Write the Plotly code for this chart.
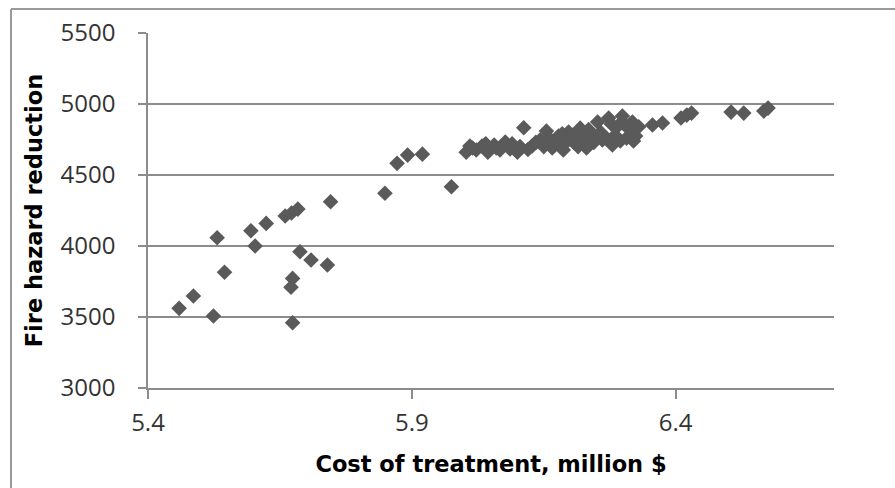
import plotly.graph_objects as go

cost = [5.459, 5.486, 5.524, 5.531, 5.545, 5.595, 5.603, 5.624, 5.660, 5.672,
        5.684, 5.688, 5.709, 5.740, 5.746, 5.674, 5.671, 5.674,
        5.849, 5.872, 5.892, 5.920, 5.975,
        6.003, 6.010, 6.022, 6.033, 6.044, 6.056, 6.067, 6.077, 6.086, 6.100,
        6.112, 6.128, 6.143, 6.155, 6.166, 6.178, 6.187, 6.197, 6.208, 6.219,
        6.231, 6.240, 6.252, 6.261, 6.273, 6.280, 6.290, 6.299, 6.307, 6.318,
        6.324, 6.356, 6.375, 6.410, 6.421, 6.430, 6.505, 6.529, 6.567, 6.575,
        6.015, 6.040, 6.060, 6.090, 6.105, 6.120, 6.135, 6.150, 6.160, 6.172,
        6.185, 6.195, 6.205, 6.215, 6.225, 6.235, 6.245, 6.258, 6.268, 6.278,
        6.285, 6.295, 6.300, 6.312, 6.320, 6.330]
reduction = [3561, 3648, 3507, 4058, 3815, 4107, 4000, 4159, 4211, 4232,
             4260, 3960, 3901, 3866, 4312, 3772, 3709, 3460,
             4371, 4582, 4640, 4647, 4417,
             4661, 4704, 4676, 4704, 4661, 4711, 4676, 4732, 4683, 4661,
             4833, 4704, 4746, 4809, 4690, 4774, 4676, 4802, 4725, 4830,
             4690, 4774, 4873, 4746, 4901, 4711, 4844, 4915, 4760, 4873,
             4774, 4852, 4866, 4901, 4922, 4936, 4943, 4936, 4950, 4971,
             4690, 4720, 4690, 4720, 4700, 4680, 4730, 4700, 4760, 4720,
             4790, 4740, 4780, 4700, 4760, 4820, 4730, 4800, 4760, 4860,
             4780, 4740, 4870, 4820, 4740, 4840]

x_ticks = [5.4, 5.9, 6.4]
y_ticks = [3000, 3500, 4000, 4500, 5000, 5500]

GRID = "#8c8c8c"
TICKFONT = dict(family="Open Sans", size=24, color="#333333")
TITLEFONT = dict(family="DejaVu Sans", size=22.5, color="#000000", weight="bold")

fig = go.Figure()
fig.add_trace(go.Scatter(
    x=cost, y=reduction, mode="markers",
    marker=dict(symbol="diamond", size=12, color="#5a5a5a", line=dict(width=0)),
    showlegend=False,
))

fig.update_layout(
    width=895, height=488,
    margin=dict(l=148, r=61, t=33, b=100),
    paper_bgcolor="white", plot_bgcolor="white",
    xaxis=dict(
        range=[5.4, 6.7], tickvals=x_ticks, ticktext=[f"{v:.1f}" for v in x_ticks],
        showgrid=False, zeroline=False,
        showline=True, linecolor=GRID, linewidth=1.5,
        ticks="outside", ticklen=9, tickcolor=GRID, tickwidth=1.5,
        tickfont=TICKFONT, ticklabelstandoff=3,
        title=dict(text="Cost of treatment, million $", font=TITLEFONT, standoff=20),
    ),
    yaxis=dict(
        range=[3000, 5500], tickvals=y_ticks,
        showgrid=True, gridcolor=GRID, gridwidth=1.5, zeroline=False,
        showline=True, linecolor=GRID, linewidth=1.5,
        ticks="outside", ticklen=8, tickcolor=GRID, tickwidth=1.5,
        tickfont=TICKFONT, ticklabelstandoff=18,
        title=dict(text="Fire hazard reduction", font=TITLEFONT, standoff=12),
    ),
    shapes=[
        dict(type="line", xref="paper", yref="paper", x0=-137/686, x1=-137/686,
             y0=1.0676, y1=-0.4, line=dict(color="#9a9a9a", width=2)),
        dict(type="line", xref="paper", yref="paper", x0=-137/686, x1=1.2,
             y0=1.0676, y1=1.0676, line=dict(color="#9a9a9a", width=2)),
    ],
)

fig.write_html("out.html")
